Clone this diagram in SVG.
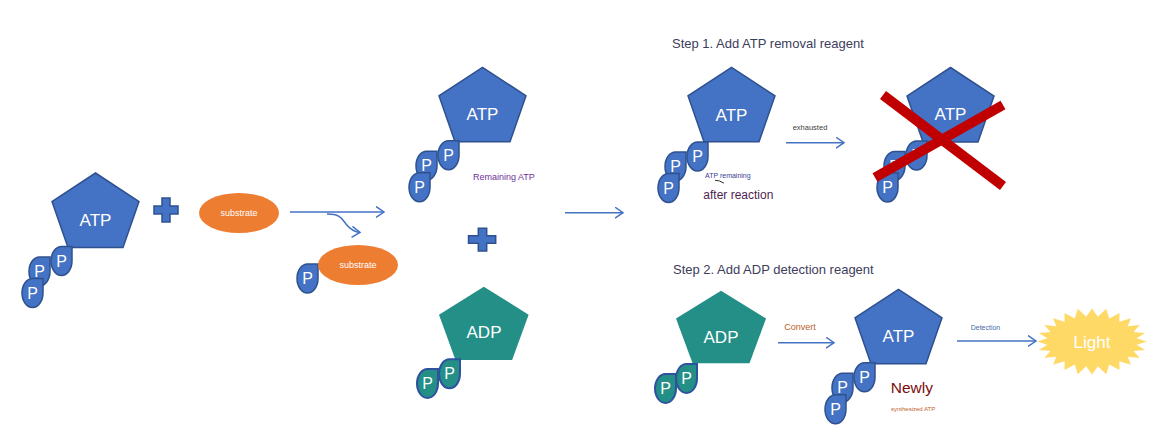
<svg xmlns="http://www.w3.org/2000/svg" xmlns:xlink="http://www.w3.org/1999/xlink" width="1163" height="447" viewBox="0 0 1163 447">
<style>
.atp{fill:#4472C4;stroke:#2F528F;stroke-width:1.5}
.adp{fill:#238F86;stroke:none}
.dropAtp{fill:#4472C4;stroke:#2F528F;stroke-width:1.5}
.dropAdp{fill:#238F86;stroke:#2F52A0;stroke-width:2}
.ptxt{font-family:"Liberation Sans",Arial,sans-serif;font-size:16px;fill:#fff;text-anchor:middle}
.big{font-family:"Liberation Sans",Arial,sans-serif;font-size:17px;fill:#fff;text-anchor:middle}
.sub{fill:#ED7D31}
.subtxt{font-family:"Liberation Sans",Arial,sans-serif;font-size:9px;fill:#fff;text-anchor:middle}
.plus{fill:#4472C4;stroke:#2F528F;stroke-width:1.5}
.arrow{fill:none;stroke:#4472C4;stroke-width:1.5;marker-end:url(#chev)}
.lbl{font-family:"Liberation Sans",Arial,sans-serif}
.step{font-family:"Liberation Sans",Arial,sans-serif;font-size:13px;fill:#3D3D5C}
.cross{stroke:#C00000;stroke-width:10;fill:none}
</style>
<defs>
<marker id="chev" markerUnits="userSpaceOnUse" markerWidth="12" markerHeight="14" refX="8.5" refY="6" orient="auto">
<path d="M0.5,0.5 L8.5,6 L0.5,11.5" fill="none" stroke="#4472C4" stroke-width="1.5"/>
</marker>
<polygon id="pent" points="43.5,0 87,28.5 71,74.5 16,74.5 0,28.5"/>
<path id="drop" d="M10.5,0 A10.5,14.5 0 0 0 0,14.5 A10.5,14.5 0 0 0 10.5,29 A10.5,14.5 0 0 0 21,14.5 L21,0 Z"/>
</defs>

<g id="connectors">
<line class="arrow" x1="290" y1="212" x2="384" y2="212"/>
<path class="arrow" d="M327,214 C341,214 342,219 346,224 C350,229 354,232 360,232.5"/>
<line class="arrow" x1="565" y1="212.7" x2="623" y2="212.7"/>
<line class="arrow" x1="786" y1="142.7" x2="844" y2="142.7"/>
<line class="arrow" x1="778" y1="342.7" x2="834" y2="342.7"/>
<line class="arrow" x1="957" y1="341" x2="1036" y2="341"/>
</g>

<g id="atp-left">
<use href="#pent" class="atp" transform="translate(52,173)"/>
<text class="big" x="95.5" y="225.5">ATP</text>
<use href="#drop" class="dropAtp" x="29" y="257"/><text class="ptxt" x="39.5" y="277">P</text>
<use href="#drop" class="dropAtp" x="22" y="278.5"/><text class="ptxt" x="32.5" y="298.5">P</text>
<use href="#drop" class="dropAtp" x="51" y="246.5"/><text class="ptxt" x="61.5" y="266.5">P</text>
</g>

<g id="plus-1">
<path class="plus" d="M162,198 h8 v8 h8 v8 h-8 v8 h-8 v-8 h-8 v-8 h8 Z"/>
</g>

<g id="substrate-1">
<ellipse class="sub" cx="239" cy="213" rx="40" ry="20"/>
<text class="subtxt" x="239" y="216">substrate</text>
</g>

<g id="p-substrate">
<use href="#drop" class="dropAtp" x="297" y="264"/><text class="ptxt" x="307.5" y="284">P</text>
<ellipse class="sub" cx="358" cy="265" rx="40" ry="20"/>
<text class="subtxt" x="358" y="268">substrate</text>
</g>

<g id="atp-remaining">
<use href="#pent" class="atp" transform="translate(439,67.3)"/>
<text class="big" x="482.5" y="119.8">ATP</text>
<use href="#drop" class="dropAtp" x="416" y="151.3"/><text class="ptxt" x="426.5" y="171.3">P</text>
<use href="#drop" class="dropAtp" x="409" y="172.8"/><text class="ptxt" x="419.5" y="192.8">P</text>
<use href="#drop" class="dropAtp" x="438" y="140.8"/><text class="ptxt" x="448.5" y="160.8">P</text>
<text class="lbl" x="473" y="180" font-size="9" fill="#7030A0">Remaining ATP</text>
</g>

<g id="plus-2">
<path class="plus" d="M478.3,228.3 h8.4 v7.4 h9 v7.6 h-9 v7.7 h-8.4 v-7.7 h-9.8 v-7.6 h9.8 Z"/>
</g>

<g id="adp-1">
<use href="#pent" class="adp" transform="translate(439,286.7) scale(1.03,0.985)"/>
<text class="big" x="484" y="337.7">ADP</text>
<use href="#drop" class="dropAdp" x="417" y="369"/><text class="ptxt" x="427.5" y="389">P</text>
<use href="#drop" class="dropAdp" x="439" y="359.3"/><text class="ptxt" x="449.5" y="379.3">P</text>
</g>

<text class="step" x="672" y="48">Step 1. Add ATP removal reagent</text>

<g id="atp-step1">
<use href="#pent" class="atp" transform="translate(688,67.3)"/>
<text class="big" x="731.5" y="120.5">ATP</text>
<use href="#drop" class="dropAtp" x="665" y="152"/><text class="ptxt" x="675.5" y="172">P</text>
<use href="#drop" class="dropAtp" x="658" y="173.5"/><text class="ptxt" x="668.5" y="193.5">P</text>
<use href="#drop" class="dropAtp" x="687" y="142"/><text class="ptxt" x="697.5" y="162">P</text>
<text class="lbl" x="705" y="178" font-size="7" fill="#3C3C96">ATP remaining</text>
<path d="M715,180.3 Q719,180 724,183.2" fill="none" stroke="#333" stroke-width="1"/>
<text class="lbl" x="703.3" y="199.3" font-size="12" fill="#4F1F4F">after reaction</text>
</g>

<text class="lbl" x="792.7" y="130" font-size="7.5" fill="#404040">exhausted</text>

<g id="atp-exhausted">
<use href="#pent" class="atp" transform="translate(907,67.5)"/>
<text class="big" x="950.5" y="120">ATP</text>
<use href="#drop" class="dropAtp" x="884" y="151.5"/><text class="ptxt" x="894.5" y="171.5">P</text>
<use href="#drop" class="dropAtp" x="877" y="173"/><text class="ptxt" x="887.5" y="193">P</text>
<use href="#drop" class="dropAtp" x="906" y="141"/><text class="ptxt" x="916.5" y="161">P</text>
<line class="cross" x1="883" y1="95" x2="1003" y2="186"/>
<line class="cross" x1="1003" y1="105" x2="875" y2="177.5"/>
</g>

<text class="step" x="673" y="274">Step 2. Add ADP detection reagent</text>

<g id="adp-step2">
<use href="#pent" class="adp" transform="translate(676,290.7) scale(1.035,0.975)"/>
<text class="big" x="721" y="342.7">ADP</text>
<use href="#drop" class="dropAdp" x="655" y="374"/><text class="ptxt" x="665.5" y="394">P</text>
<use href="#drop" class="dropAdp" x="676" y="364"/><text class="ptxt" x="686.5" y="384">P</text>
</g>

<text class="lbl" x="784.3" y="329.8" font-size="9" fill="#B8612A">Convert</text>

<g id="atp-new">
<use href="#pent" class="atp" transform="translate(855,289.3)"/>
<text class="big" x="898.5" y="341.8">ATP</text>
<use href="#drop" class="dropAtp" x="832" y="373.3"/><text class="ptxt" x="842.5" y="393.3">P</text>
<use href="#drop" class="dropAtp" x="825" y="394.8"/><text class="ptxt" x="835.5" y="414.8">P</text>
<use href="#drop" class="dropAtp" x="854" y="362.8"/><text class="ptxt" x="864.5" y="382.8">P</text>
<text class="lbl" x="890.7" y="393" font-size="15.5" fill="#7B0C0C">Newly</text>
<text class="lbl" x="891" y="410.5" font-size="6" fill="#C0602A">synthesized ATP</text>
</g>

<text class="lbl" x="970.7" y="330" font-size="7" fill="#4A6AAA">Detection</text>

<g id="light">
<polygon fill="#FFD966" points="1147,341.5 1136.61,344.76 1145.12,350.04 1133.58,351.07 1139.63,358 1127.7,356.72 1130.89,364.83 1119.4,361.34 1119.5,370.08 1109.22,364.6 1106.23,374.37 1097.87,366.29 1092,374.5 1086.13,366.29 1077.77,374.37 1074.78,364.6 1064.5,370.08 1064.6,361.34 1053.11,364.83 1056.3,356.72 1044.37,358 1050.42,351.07 1038.88,350.04 1047.39,344.76 1037,341.5 1047.39,338.24 1038.88,332.96 1050.42,331.93 1044.37,325 1056.3,326.28 1053.11,318.17 1064.6,321.66 1064.5,312.92 1074.78,318.4 1077.77,308.63 1086.13,316.71 1092,308.5 1097.87,316.71 1106.23,308.63 1109.22,318.4 1119.5,312.92 1119.4,321.66 1130.89,318.17 1127.7,326.28 1139.63,325 1133.58,331.93 1145.12,332.96 1136.61,338.24"/>
<text class="big" x="1092" y="347.5">Light</text>
</g>
</svg>
